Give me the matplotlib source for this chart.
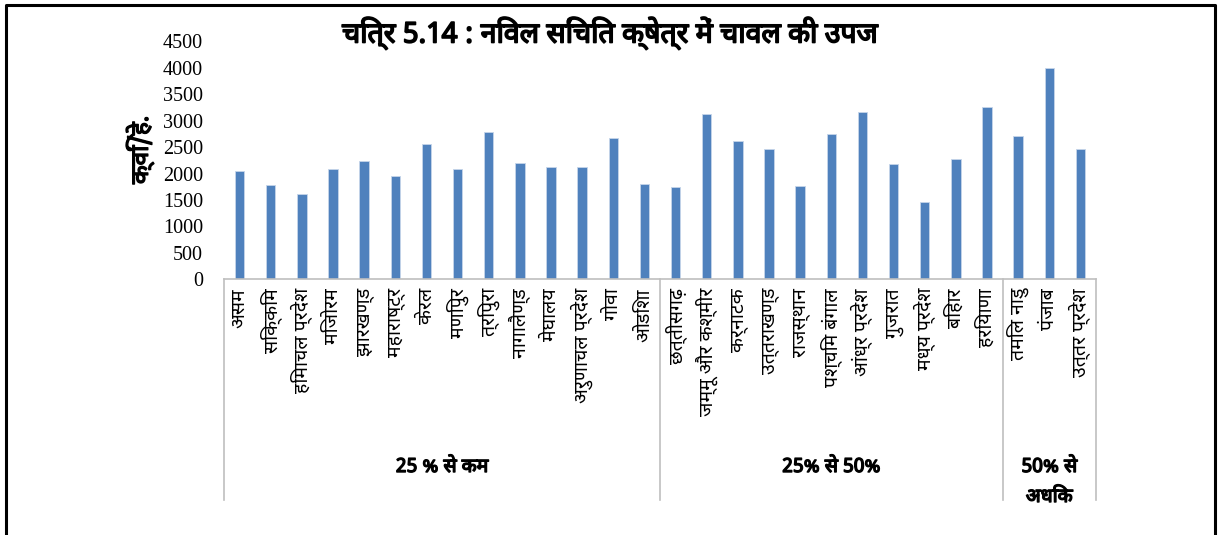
import matplotlib
matplotlib.use("Agg")
import matplotlib.pyplot as plt
import matplotlib.transforms as mtransforms
import matplotlib.patheffects as pe
from matplotlib import font_manager
from matplotlib.ft2font import FT2Font
import numpy as np

# ---- data -------------------------------------------------------------
states = [
    "असम", "सिक्किम", "हिमाचल प्रदेश", "मिजोरम", "झारखण्ड", "महाराष्ट्र",
    "केरल", "मणिपुर", "त्रिपुरा", "नागालैण्ड", "मेघालय", "अरुणाचल प्रदेश",
    "गोवा", "ओडिशा",
    "छत्तीसगढ़", "जम्मू और कश्मीर", "कर्नाटक", "उत्तराखण्ड", "राजस्थान",
    "पश्चिम बंगाल", "आंध्र प्रदेश", "गुजरात", "मध्य प्रदेश", "बिहार", "हरियाणा",
    "तमिल नाडु", "पंजाब", "उत्तर प्रदेश",
]
yield_qtl_per_ha = [
    2057, 1780, 1621, 2083, 2235, 1956, 2568, 2089, 2796, 2203, 2121, 2121,
    2676, 1805,
    1745, 3125, 2625, 2462, 1767, 2752, 3169, 2189, 1464, 2278, 3269,
    2708, 3996, 2462,
]
groups = ["25 % से कम", "25% से 50%", "50% से\nअधिक"]
group_sizes = [14, 11, 3]

title = "चित्र 5.14 : निवल सिंचित क्षेत्र में चावल की उपज"
ylabel = "क्विं/हे."
yticks = [0, 500, 1000, 1500, 2000, 2500, 3000, 3500, 4000, 4500]


# ---- fonts ------------------------------------------------------------
def devanagari_family():
    names = []
    for f in font_manager.fontManager.ttflist:
        try:
            if 0x0915 in FT2Font(f.fname).get_charmap():
                names.append(f.name)
        except Exception:
            pass
    if not names:
        return None
    for pref in ("Noto Sans Devanagari", "Lohit Devanagari", "Mangal", "Kokila"):
        if pref in names:
            return pref
    return names[0]


deva = devanagari_family()
hindi = [deva, "DejaVu Sans"] if deva else ["DejaVu Sans"]
serif = ["Liberation Serif", "DejaVu Serif"]
# heavier strokes for the headings
heavy = [pe.withStroke(linewidth=1.0, foreground="black")]

bar_color = "#4f81bd"
axis_gray = "#bfbfbf"

# ---- figure -----------------------------------------------------------
W, H = 1218, 535
fig = plt.figure(figsize=(W / 100, H / 100), dpi=100)
fig.patch.set_facecolor("white")


def fx(px):
    return px / W


def fy(py):
    return 1 - py / H


ax = fig.add_axes([fx(224), fy(279.3), fx(1096) - fx(224), fy(41.5) - fy(279.3)])

x = np.arange(len(states))
ax.bar(x, yield_qtl_per_ha, width=0.3, color=bar_color,
       edgecolor="#c6d5ea", linewidth=0.6)

ax.set_xlim(-0.5, len(states) - 0.5)
ax.set_ylim(0, 4500)
ax.set_yticks(yticks)
ax.set_yticklabels([str(v) for v in yticks], family=serif, fontsize=14.5)
ax.tick_params(axis="y", length=0, pad=15)
ax.set_xticks([])
for s in ("top", "right", "left"):
    ax.spines[s].set_visible(False)
ax.spines["bottom"].set_color(axis_gray)
ax.spines["bottom"].set_linewidth(1.2)

# category labels, rotated
trans_lab = mtransforms.blended_transform_factory(ax.transData, fig.transFigure)
for xi, name in zip(x, states):
    ax.text(xi, fy(288), name, rotation=90, ha="center", va="top",
            fontsize=14, family=hindi, transform=trans_lab)

# group dividers and group labels
bounds = np.concatenate([[0], np.cumsum(group_sizes)]) - 0.5
for b in bounds:
    ax.plot([b, b], [fy(279.3), fy(500)], color=axis_gray, lw=1.2,
            transform=trans_lab, clip_on=False)
for g, lo, hi in zip(groups, bounds[:-1], bounds[1:]):
    lines = g.split("\n")
    for k, line in enumerate(lines):
        ax.text((lo + hi) / 2, fy(467 + 30 * k), line, ha="center",
                va="center", fontsize=14, family=hindi, transform=trans_lab,
                path_effects=heavy)

# title and y-axis label
fig.text(fx(610), fy(33), title, ha="center", va="center", fontsize=20.5,
         family=hindi, path_effects=[pe.withStroke(linewidth=1.2, foreground="black")])
fig.text(fx(140), fy(150), ylabel, ha="center", va="center", rotation=90,
         fontsize=17.5, family=hindi, path_effects=heavy)

# outer frame
fig.add_artist(plt.Line2D([fx(6), fx(6), fx(1215), fx(1215)],
                          [0, fy(5), fy(5), 0], color="black", lw=2.2,
                          transform=fig.transFigure))

fig.savefig("out.png", dpi=100, facecolor="white")
